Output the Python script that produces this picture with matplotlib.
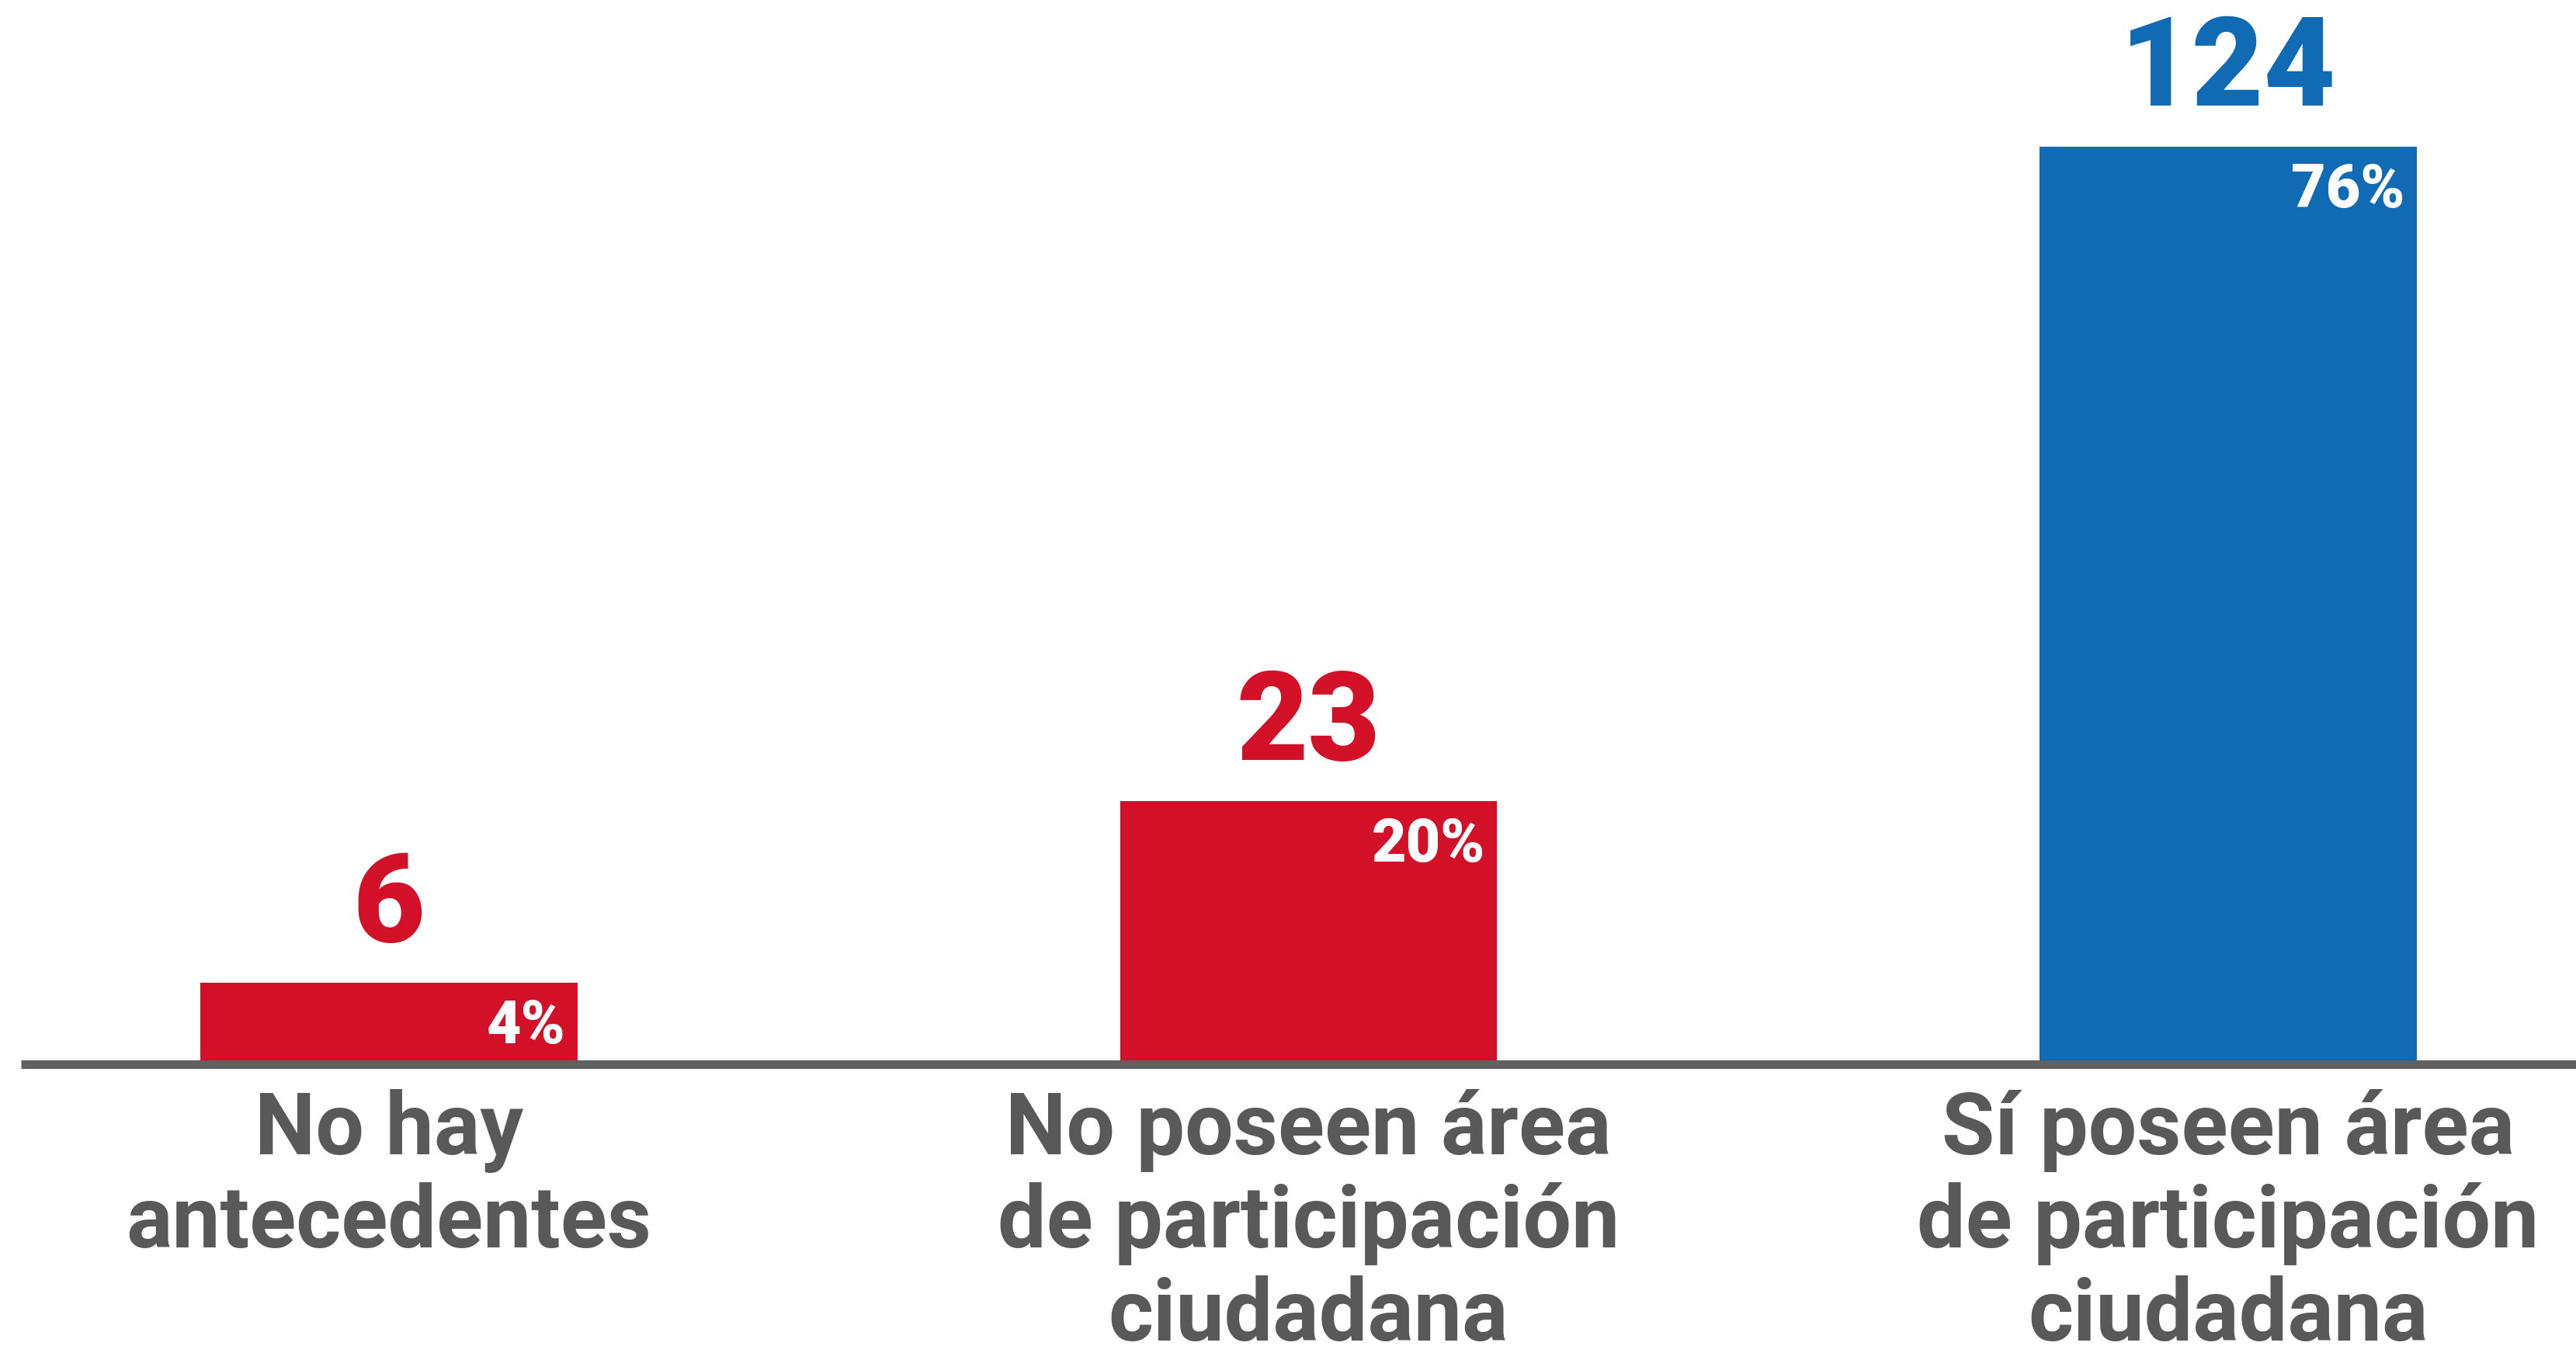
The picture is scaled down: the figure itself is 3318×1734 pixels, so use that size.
import matplotlib
matplotlib.use("Agg")
import matplotlib.pyplot as plt

# datos
categorias = ["No hay\nantecedentes",
              "No poseen área\nde participación\nciudadana",
              "Sí poseen área\nde participación\nciudadana"]
cantidades = [6, 23, 124]
porcentajes = ["4%", "20%", "76%"]
alturas = [6.7, 21.8, 76]          # alto de barra
colores = ["#D21028", "#D21028", "#116AB4"]

GRIS = "#595959"
plt.rcParams['font.family'] = ['Roboto', 'DejaVu Sans']

W, H, DPI = 3318, 1734, 100
fig = plt.figure(figsize=(W / DPI, H / DPI), dpi=DPI)

# eje: base en el centro de la línea gris
base_px = 1370.5
ax = fig.add_axes([0, (H - base_px) / H, 1, base_px / H])
paso = 1184.5
x0 = 501
ax.set_xlim(-x0 / paso, (W - x0) / paso)
ax.set_ylim(0, 76 * base_px / 1181.5)

x = range(len(categorias))
barras = ax.bar(x, alturas, width=0.41, color=colores, zorder=1)

for s in ["top", "left", "right"]:
    ax.spines[s].set_visible(False)
ax.spines["bottom"].set_linewidth(11 * 72 / DPI)
ax.spines["bottom"].set_color("#606060")
ax.spines["bottom"].set_bounds(-x0 / paso + 27 / paso, (W - x0) / paso)
ax.spines["bottom"].set_capstyle("butt")
ax.set_xticks([])
ax.set_yticks([])
ax.patch.set_visible(False)

pt = 72 / DPI  # px -> pt
for i, b in enumerate(barras):
    xc = b.get_x() + b.get_width() / 2
    top = b.get_height()
    # cantidad arriba de la barra
    ax.annotate(str(cantidades[i]), (xc, top), xytext=(0, 53 * pt),
                textcoords="offset points", ha="center", va="baseline",
                fontsize=160 * pt, fontweight="black", color=colores[i],
                annotation_clip=False)
    # porcentaje dentro de la barra
    ax.annotate(porcentajes[i], (b.get_x() + b.get_width(), top),
                xytext=(-15 * pt, -78 * pt), textcoords="offset points",
                ha="right", va="baseline", fontsize=77 * pt,
                fontweight="black", color="white")
    # etiqueta de categoría, línea por línea
    for j, linea in enumerate(categorias[i].split("\n")):
        ax.annotate(linea, (xc, 0), xytext=(0, -(116.5 + 120 * j) * pt),
                    textcoords="offset points", ha="center", va="baseline",
                    fontsize=111 * pt, fontweight="bold", color=GRIS,
                    annotation_clip=False)

fig.savefig("out.png", dpi=DPI)
